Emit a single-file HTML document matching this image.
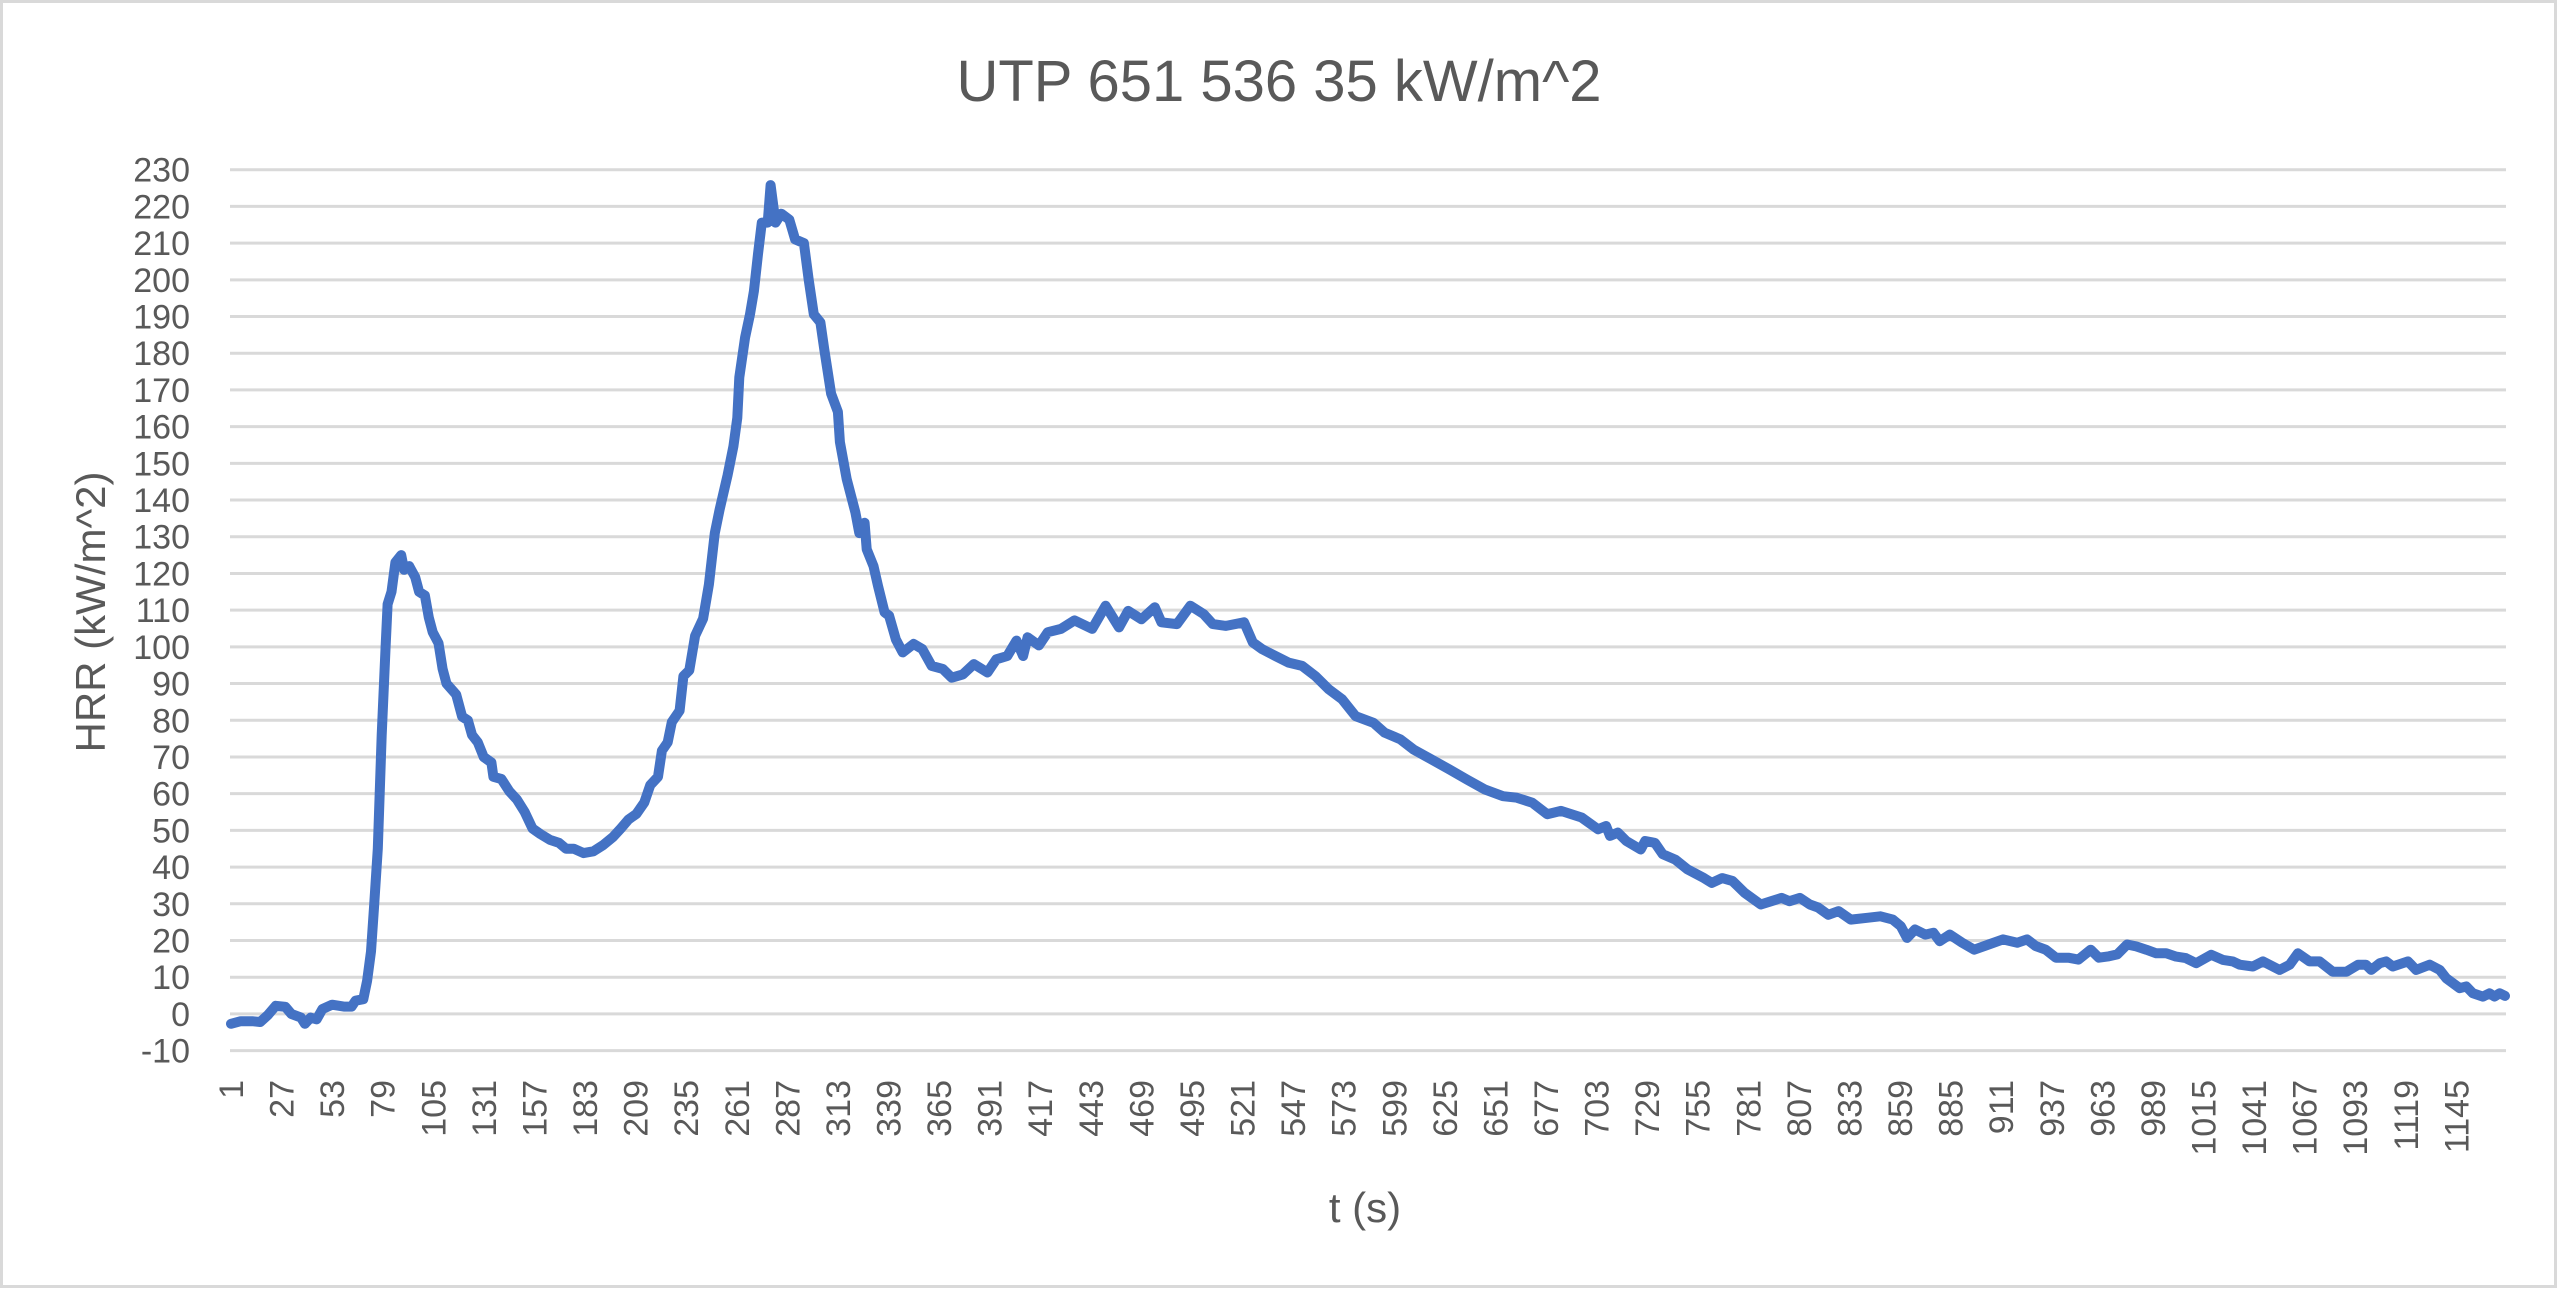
<!DOCTYPE html>
<html><head><meta charset="utf-8"><style>
html,body{margin:0;padding:0;background:#fff;}
svg{display:block;font-family:"Liberation Sans",sans-serif;}
</style></head><body>
<svg id="chart" width="2558" height="1289" viewBox="0 0 2558 1289">
<rect x="1.5" y="1.5" width="2554" height="1285" fill="#fff" stroke="#d9d9d9" stroke-width="3"/>
<text x="1279" y="101" text-anchor="middle" font-size="58" fill="#595959">UTP 651 536 35 kW/m^2</text>
<text transform="translate(105,612) rotate(-90)" text-anchor="middle" font-size="42" fill="#595959">HRR (kW/m^2)</text>
<text x="1365" y="1222" text-anchor="middle" font-size="42" fill="#595959">t (s)</text>
<g id="grid"></g><g id="ylabels"></g><g id="xlabels"></g><g id="series"></g>
</svg>
<script>
const yTicks=[-10,0,10,20,30,40,50,60,70,80,90,100,110,120,130,140,150,160,170,180,190,200,210,220,230];
const xTickLabels=[1,27,53,79,105,131,157,183,209,235,261,287,313,339,365,391,417,443,469,495,521,547,573,599,625,651,677,703,729,755,781,807,833,859,885,911,937,963,989,1015,1041,1067,1093,1119,1145];
const nCategories=1170;
const times=[1,6,12,16,20,24,29,32,37,39,42,45,48,53,59,63,65,69,71,73,74.5,76.5,78.5,80.5,81.5,83.5,85.5,88.5,90,92.6,95.7,97.7,100.7,102.7,104.7,107.7,109.8,111.8,116.8,119.8,122.8,124.9,127.9,130.9,134.9,135.9,140,144,148,152,156,160,165,169.7,173.2,177.2,182.2,187.3,192.3,197.4,201.4,205.4,209.4,213.5,216.5,220.5,222.5,225.5,227.6,231.6,233.6,236.6,239.6,243.7,246.7,249.7,252.2,256.3,259.3,261.3,262.3,265.3,267.8,269.8,271.9,273.9,276.9,278.4,280.9,283.9,288,291,295.5,298,300.6,
304,306,309.5,313,314,317.5,322,324,326.7,327.8,331.3,333.6,337,339.3,342.8,346.3,351.9,356.4,361.2,366.9,371.5,377.2,382.9,389.9,394.4,400.1,404.8,408.2,410.5,416.3,420.9,427.7,434.6,443.7,450.6,457.5,462.2,469,475.9,479.3,487.3,494.2,501.1,505.7,512.5,521.8,526.3,531,537.9,544.7,551.6,558.5,565.4,572.2,579.2,588.3,594.1,602.1,609,618.2,627.3,636.5,645.7,654.9,
662,670,677.6,684.7,695.3,703.8,707.9,709.9,713.9,718.3,725.7,728,733,737,743.5,749.7,758.2,762.2,767.6,772.9,779.1,787.4,792.8,798.1,802.2,807.5,812.6,816.9,822.1,827.4,833.7,842.7,848.9,855.3,859.4,862.6,866.7,872,876.2,879.4,884.6,890.9,897.1,904.6,911.9,919.3,924.3,928.7,933.9,939.1,945.5,950.7,957,961.2,966.4,970.7,975.7,
980.4,985.6,990.7,995.8,1000.9,1005.9,1011.2,1019,1025,1030,1033.6,1040.4,1045.6,1054.1,1059.3,1063.5,1069.5,1074.7,1081.4,1088.5,1094.5,1098.5,1101.2,1105.6,1108.9,1112.3,1120.1,1124.3,1131.3,1136.4,1139.8,1146.7,1150.1,1153.5,1158.6,1162,1164.6,1167.2,1170];
const hrr=[-2.7,-2,-2,-2.2,-0.3,2.2,1.9,0,-1,-2.7,-1,-1.5,1.3,2.5,2,2,3.6,4,9,17,29,45,76,100,111.6,115,123,125,121,122,119,115,114,108,104,101,94,90,87,81,80,76,74,70,68.5,64.6,64,60.7,58.4,55,50.5,49,47.4,46.6,45,45,43.8,44.3,46,48.2,50.5,53,54.5,57.6,62.3,64.6,71.7,74,79.5,82.6,92,93.6,103,107.7,117,131,137.4,146.8,154.6,162.4,173.4,184.3,190.6,196.9,207,215.6,215.6,225.8,215.6,218,216.4,211,210,200,190.6,
188.4,181,169,164,155.8,145.7,136.6,131,133.8,126.6,122,116.6,109.4,108.5,102,98.5,100.8,99.4,94.8,94,91.6,92.5,95.3,93,96.6,97.5,101.7,97.5,102.6,100.4,104,104.9,107.2,104.9,111.2,105.3,109.8,107.5,110.8,106.7,106.2,111.2,108.9,106.2,105.7,106.7,101.2,99.4,97.5,95.7,94.8,92,88.4,85.7,81.1,79.3,76.6,74.8,72,69.3,66.6,63.8,61.1,59.3,
58.9,57.5,54.4,55.3,53.5,50.3,51.2,48.5,49.4,47.1,44.8,47.1,46.6,43.5,42,39.4,37,35.7,37,36.2,33,29.8,30.7,31.6,30.7,31.6,29.8,29,27,28,25.7,26.2,26.6,25.7,23.9,20.7,23,21.6,22.1,19.8,21.6,19.4,17.5,18.9,20.3,19.4,20.3,18.5,17.5,15.3,15.3,14.8,17.5,15.3,15.7,16.2,18.9,
18.4,17.5,16.5,16.5,15.6,15.2,13.8,16.1,14.7,14.3,13.4,12.9,14.3,12,13.4,16.5,14.3,14.3,11.5,11.5,13.4,13.4,12,13.8,14.3,12.9,14.3,12,13.4,12,9.7,7,7.5,5.6,4.7,5.6,4.7,5.6,4.9];

const NS="http://www.w3.org/2000/svg";
const plotL=230, plotR=2506, yTop=169.7, yBot=1050.6, yMin=-10, yMax=230;
const catW=(plotR-plotL)/nCategories;
function xScale(t){return plotL+(t-0.5)*catW;}
function yScale(v){return yBot-(v-yMin)/(yMax-yMin)*(yBot-yTop);}

const grid=document.getElementById('grid');
const yl=document.getElementById('ylabels');
yTicks.forEach(v=>{
  const y=yScale(v);
  const l=document.createElementNS(NS,'line');
  l.setAttribute('x1',plotL);l.setAttribute('x2',plotR);
  l.setAttribute('y1',y);l.setAttribute('y2',y);
  l.setAttribute('stroke','#d9d9d9');l.setAttribute('stroke-width','3');
  
  
  grid.appendChild(l);
  const t=document.createElementNS(NS,'text');
  t.setAttribute('x',190);t.setAttribute('y',y+12);
  t.setAttribute('text-anchor','end');t.setAttribute('font-size','34');t.setAttribute('fill','#595959');
  t.textContent=v;
  
  
  yl.appendChild(t);
});
const xl=document.getElementById('xlabels');
xTickLabels.forEach(c=>{
  const x=xScale(c)+12;
  const t=document.createElementNS(NS,'text');
  t.setAttribute('transform','translate('+x+',1080) rotate(-90)');
  t.setAttribute('text-anchor','end');t.setAttribute('font-size','34');t.setAttribute('fill','#595959');
  t.textContent=c;
  
  
  xl.appendChild(t);
});
let d='';
times.forEach((t,i)=>{d+=(i?'L':'M')+xScale(t).toFixed(1)+','+yScale(hrr[i]).toFixed(1);});
const p=document.createElementNS(NS,'path');
p.setAttribute('d',d);p.setAttribute('fill','none');p.setAttribute('stroke','#4472c4');
p.setAttribute('stroke-width','10');p.setAttribute('stroke-linejoin','round');p.setAttribute('stroke-linecap','round');


document.getElementById('series').appendChild(p);
</script>
</body></html>
